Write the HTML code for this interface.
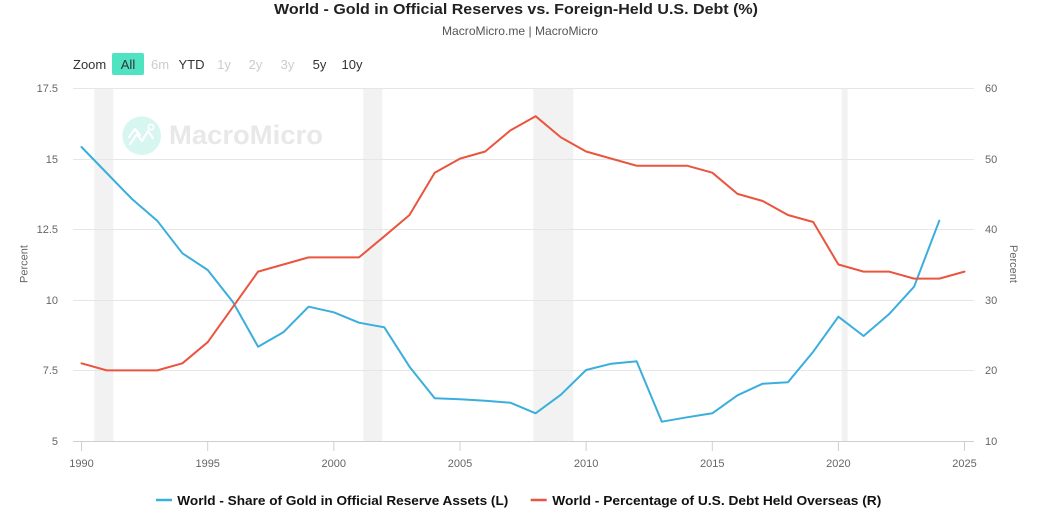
<!DOCTYPE html>
<html>
<head>
<meta charset="utf-8">
<style>
  html,body{margin:0;padding:0;background:#fff;}
  body{width:1039px;height:532px;overflow:hidden;}
  svg{display:block;font-family:"Liberation Sans",sans-serif;}
</style>
</head>
<body>
<svg width="1039" height="532" viewBox="0 0 1039 532" xmlns="http://www.w3.org/2000/svg">
  <!-- Title -->
  <text x="516" y="14" text-anchor="middle" font-size="15" font-weight="bold" fill="#222" textLength="484" lengthAdjust="spacingAndGlyphs">World - Gold in Official Reserves vs. Foreign-Held U.S. Debt (%)</text>
  <text x="520" y="35" text-anchor="middle" font-size="12" fill="#555" textLength="156" lengthAdjust="spacingAndGlyphs">MacroMicro.me | MacroMicro</text>

  <!-- Zoom buttons -->
  <text x="73" y="69" font-size="13" fill="#333">Zoom</text>
  <rect x="112" y="53" width="32" height="22" rx="2" fill="#4fe3c1"/>
  <text x="128" y="69" text-anchor="middle" font-size="13" fill="#333">All</text>
  <text x="160" y="69" text-anchor="middle" font-size="13" fill="#ccc">6m</text>
  <text x="191.5" y="69" text-anchor="middle" font-size="13" fill="#333">YTD</text>
  <text x="224" y="69" text-anchor="middle" font-size="13" fill="#ccc">1y</text>
  <text x="255.5" y="69" text-anchor="middle" font-size="13" fill="#ccc">2y</text>
  <text x="287.5" y="69" text-anchor="middle" font-size="13" fill="#ccc">3y</text>
  <text x="319.5" y="69" text-anchor="middle" font-size="13" fill="#333">5y</text>
  <text x="352" y="69" text-anchor="middle" font-size="13" fill="#333">10y</text>

  <!-- Recession bands -->
  <g fill="#f2f2f2">
    <rect x="94.3" y="88" width="19" height="353"/>
    <rect x="363.3" y="88" width="19" height="353"/>
    <rect x="533.3" y="88" width="40" height="353"/>
    <rect x="841.7" y="88" width="6" height="353"/>
  </g>

  <!-- Watermark logo -->
  <circle cx="141.7" cy="135.7" r="19.3" fill="#d6f6ef"/>
  <polyline points="130,144 137,134 142,141 148,131 153,138" fill="none" stroke="#fff" stroke-width="2.2" stroke-linejoin="round" stroke-linecap="round"/>
  <polyline points="129,137 135,129 140,135" fill="none" stroke="#fff" stroke-width="2.2" stroke-linejoin="round" stroke-linecap="round"/>
  <circle cx="151" cy="127" r="2.6" fill="none" stroke="#fff" stroke-width="1.8"/>
  <text x="169" y="144" font-size="27" font-weight="bold" fill="#e8e8e8" textLength="154" lengthAdjust="spacingAndGlyphs">MacroMicro</text>

  <!-- Gridlines -->
  <g stroke="#e6e6e6" stroke-width="1">
    <line x1="73" y1="88.5" x2="974" y2="88.5"/>
    <line x1="73" y1="159.5" x2="974" y2="159.5"/>
    <line x1="73" y1="229.5" x2="974" y2="229.5"/>
    <line x1="73" y1="300.5" x2="974" y2="300.5"/>
    <line x1="73" y1="370.5" x2="974" y2="370.5"/>
  </g>
  <!-- X axis -->
  <line x1="73" y1="441.5" x2="974" y2="441.5" stroke="#ccd0d6" stroke-width="1"/>
  <g stroke="#ccd0d6" stroke-width="1">
    <line x1="81.5" y1="441" x2="81.5" y2="451"/>
    <line x1="207.7" y1="441" x2="207.7" y2="451"/>
    <line x1="333.8" y1="441" x2="333.8" y2="451"/>
    <line x1="460" y1="441" x2="460" y2="451"/>
    <line x1="586.1" y1="441" x2="586.1" y2="451"/>
    <line x1="712.3" y1="441" x2="712.3" y2="451"/>
    <line x1="838.4" y1="441" x2="838.4" y2="451"/>
    <line x1="964.5" y1="441" x2="964.5" y2="451"/>
  </g>
  <g font-size="11" fill="#666" text-anchor="middle">
    <text x="81.5" y="467">1990</text>
    <text x="207.7" y="467">1995</text>
    <text x="333.8" y="467">2000</text>
    <text x="460" y="467">2005</text>
    <text x="586.1" y="467">2010</text>
    <text x="712.3" y="467">2015</text>
    <text x="838.4" y="467">2020</text>
    <text x="964.5" y="467">2025</text>
  </g>

  <!-- Left axis labels -->
  <g font-size="11" fill="#666" text-anchor="end">
    <text x="58" y="92">17.5</text>
    <text x="58" y="163">15</text>
    <text x="58" y="233">12.5</text>
    <text x="58" y="304">10</text>
    <text x="58" y="374">7.5</text>
    <text x="58" y="445">5</text>
  </g>
  <text x="0" y="0" font-size="11" fill="#666" text-anchor="middle" transform="translate(27.5,264) rotate(-90)">Percent</text>

  <!-- Right axis labels -->
  <g font-size="11" fill="#666" text-anchor="start">
    <text x="985" y="92">60</text>
    <text x="985" y="163">50</text>
    <text x="985" y="233">40</text>
    <text x="985" y="304">30</text>
    <text x="985" y="374">20</text>
    <text x="985" y="445">10</text>
  </g>
  <text x="0" y="0" font-size="11" fill="#666" text-anchor="middle" transform="translate(1010,264) rotate(90)">Percent</text>

  <!-- Blue series -->
  <polyline fill="none" stroke="#3aaedc" stroke-width="2" stroke-linejoin="round" stroke-linecap="round" points="
    81.5,147 106.7,173 132,199 157.2,220.7 182.4,253.3 207.7,270 232.9,302 258.1,346.7 283.3,332.3 308.6,306.7
    333.8,312.3 359,322.7 384.3,327.3 409.5,366.7 434.7,398.3 460,399.3 485.2,400.7 510.4,402.7 535.6,413.3
    560.9,394.7 586.1,370 611.3,363.7 636.6,361.3 661.8,421.7 687,417.3 712.3,413.3 737.5,395.3 762.7,383.7
    787.9,382.3 813.2,351.7 838.4,316.7 863.6,336 888.9,314.3 914.1,286.7 939.3,220.7"/>

  <!-- Red series -->
  <polyline fill="none" stroke="#e9553e" stroke-width="2" stroke-linejoin="round" stroke-linecap="round" points="
    81.5,363.3 106.7,370.4 132,370.4 157.2,370.4 182.4,363.3 207.7,342.2 232.9,306.9 258.1,271.6 283.3,264.5
    308.6,257.4 333.8,257.4 359,257.4 384.3,236.3 409.5,215 434.7,172.7 460,158.6 485.2,151.5 510.4,130.4
    535.6,116.2 560.9,137.4 586.1,151.5 611.3,158.6 636.6,165.7 661.8,165.7 687,165.7 712.3,172.7 737.5,193.9
    762.7,201 787.9,215 813.2,222 838.4,264.5 863.6,271.6 888.9,271.6 914.1,278.6 939.3,278.6 964.5,271.6"/>

  <!-- Legend -->
  <line x1="156" y1="500" x2="172" y2="500" stroke="#3aaedc" stroke-width="2.5"/>
  <text x="177.3" y="505" font-size="13" font-weight="bold" fill="#111" textLength="331" lengthAdjust="spacingAndGlyphs">World - Share of Gold in Official Reserve Assets (L)</text>
  <line x1="530.7" y1="500" x2="546.7" y2="500" stroke="#e9553e" stroke-width="2.5"/>
  <text x="552.3" y="505" font-size="13" font-weight="bold" fill="#111" textLength="329" lengthAdjust="spacingAndGlyphs">World - Percentage of U.S. Debt Held Overseas (R)</text>
</svg>
</body>
</html>
